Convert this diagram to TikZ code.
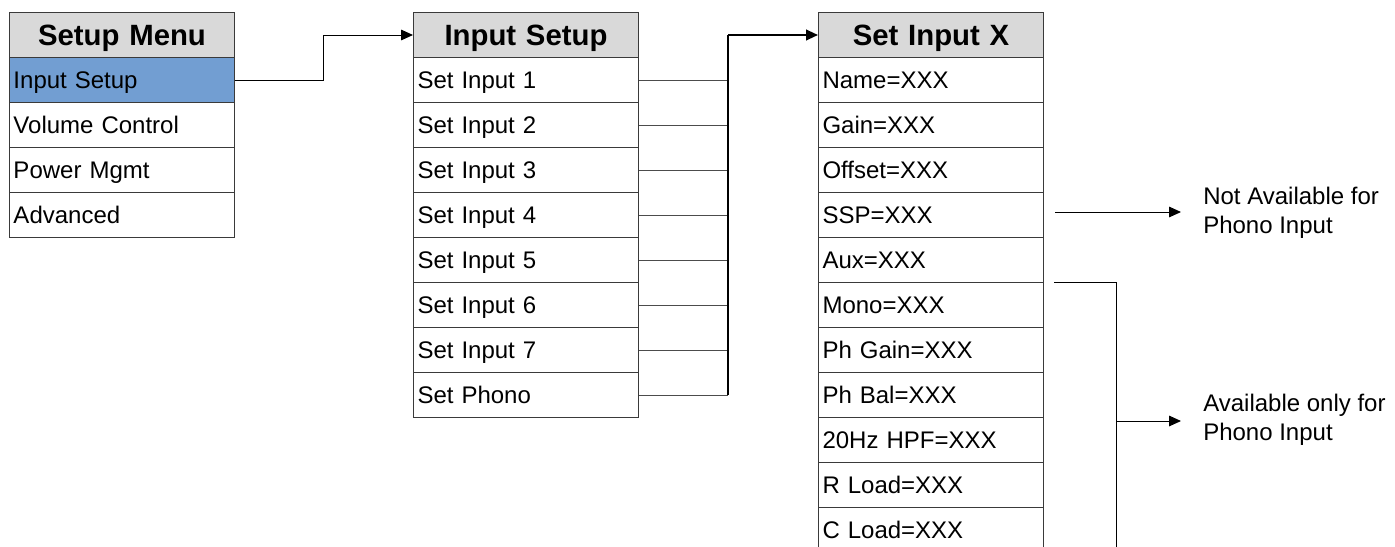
\documentclass[tikz,border=0pt]{standalone}
\usepackage{fontspec}
\setmainfont{Liberation Sans}
\usetikzlibrary{arrows.meta,calc}
\definecolor{hdrgray}{HTML}{D9D9D9}
\definecolor{selblue}{HTML}{729ED2}
\definecolor{edgec}{HTML}{3A3A3A}
\begin{document}
\begin{tikzpicture}[x=0.75pt,y=-0.75pt,
  cellA/.style={draw=edgec, line width=0.75pt, rectangle, anchor=north west,
    inner xsep=3pt, inner ysep=0pt, minimum height=33.75pt, text width=162.75pt,
    text height=12.6pt, text depth=0pt,
    align=left, font=\fontsize{18}{21}\selectfont},
  hdrA/.style={cellA, fill=hdrgray, align=center, text height=15.8pt,
    font=\bfseries\fontsize{22}{26}\selectfont},
  note/.style={anchor=west, align=left, inner sep=0pt, font=\fontsize{18}{21.75}\selectfont},
  arr/.style={line width=0.75pt, -{Triangle[length=9pt,width=8pt]}},
  feed/.style={line width=0.75pt, draw=black!70},
  bus/.style={line width=1.5pt, draw=black}]
\clip (0,0) rectangle (1395,546);
% Setup Menu
\node[hdrA] (mh) at (9,12) {Setup Menu};
\node[cellA, fill=selblue] (m1) at (9,57) {Input Setup};
\node[cellA] (m2) at (9,102) {Volume Control};
\node[cellA] (m3) at (9,147) {Power Mgmt};
\node[cellA] (m4) at (9,192) {Advanced};
% Input Setup
\node[hdrA] (ih) at (413,12) {Input Setup};
\node[cellA] (i1) at (413,57) {Set Input 1};
\node[cellA] (i2) at (413,102) {Set Input 2};
\node[cellA] (i3) at (413,147) {Set Input 3};
\node[cellA] (i4) at (413,192) {Set Input 4};
\node[cellA] (i5) at (413,237) {Set Input 5};
\node[cellA] (i6) at (413,282) {Set Input 6};
\node[cellA] (i7) at (413,327) {Set Input 7};
\node[cellA] (i8) at (413,372) {Set Phono};
% Set Input X
\node[hdrA] (xh) at (818,12) {Set Input X};
\node[cellA] (x1) at (818,57) {Name=XXX};
\node[cellA] (x2) at (818,102) {Gain=XXX};
\node[cellA] (x3) at (818,147) {Offset=XXX};
\node[cellA] (x4) at (818,192) {SSP=XXX};
\node[cellA] (x5) at (818,237) {Aux=XXX};
\node[cellA] (x6) at (818,282) {Mono=XXX};
\node[cellA] (x7) at (818,327) {Ph Gain=XXX};
\node[cellA] (x8) at (818,372) {Ph Bal=XXX};
\node[cellA] (x9) at (818,417) {20Hz HPF=XXX};
\node[cellA] (x10) at (818,462) {R Load=XXX};
\node[cellA] (x11) at (818,507) {C Load=XXX};
% notes
\node[note] (na) at (1203,213) {Not Available for\\Phono Input};
\node[note] (ao) at (1203,420) {Available only for\\Phono Input};
% connector helper coordinates
\coordinate (j1) at (323,0);
\coordinate (bus) at (728,0);
\coordinate (a1s) at (1055,212);
\coordinate (a1e) at (1181,212);
\coordinate (b1s) at (1054,282);
\coordinate (bx) at (1116,0);
\coordinate (bend) at (1116,560);
\coordinate (a2e) at (1181,421);
% connectors
\draw[arr] (m1.east) -- (m1.east -| j1) |- (ih.west);
\foreach \i in {1,...,8} {\draw[feed] (i\i.east) -- (i\i.east -| bus);}
\draw[bus] (i8.east -| bus) -- (xh.west -| bus);
\draw[arr, line width=1.5pt] (xh.west -| bus) -- (xh.west);
\draw[arr] (a1s) -- (a1e);
\draw[line width=0.75pt] (b1s) -- (b1s -| bx) -- (bend);
\draw[arr] (a2e -| bx) -- (a2e);
\end{tikzpicture}
\end{document}
